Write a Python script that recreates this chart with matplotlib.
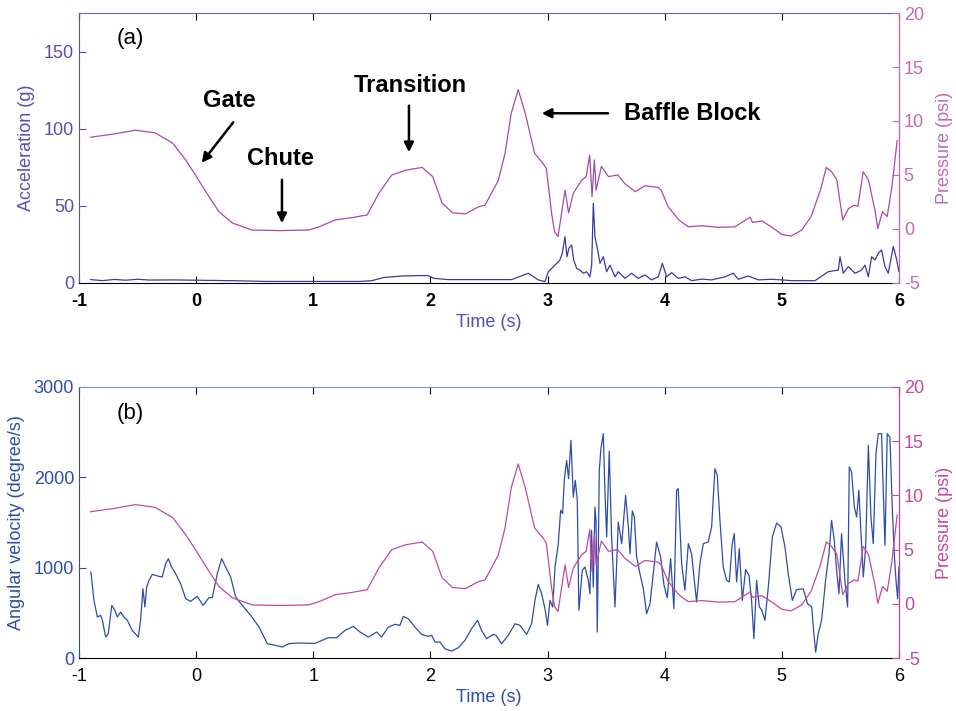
import matplotlib
matplotlib.use("Agg")
import matplotlib.pyplot as plt

plt.rcParams['font.family'] = ['Liberation Sans', 'DejaVu Sans']
plt.rcParams['axes.unicode_minus'] = False

# pressure (psi), same record in both panels
press_t = [-0.9, -0.7, -0.52, -0.35, -0.2, -0.09, 0.0, 0.08, 0.195, 0.31,
           0.48, 0.71, 0.96, 1.05, 1.19, 1.33, 1.46, 1.56, 1.67, 1.79,
           1.93, 2.02, 2.1, 2.19, 2.3, 2.41, 2.466, 2.58, 2.637, 2.69,
           2.75, 2.81, 2.89, 2.96, 2.99, 3.035, 3.06, 3.09, 3.12, 3.15,
           3.18, 3.22, 3.29, 3.33, 3.36, 3.38, 3.40, 3.415, 3.46, 3.52,
           3.60, 3.66, 3.75, 3.83, 3.945, 3.97, 4.03, 4.12, 4.2, 4.32,
           4.46, 4.6, 4.73, 4.75, 4.83, 4.91, 5.0, 5.08, 5.17, 5.25,
           5.33, 5.38, 5.425, 5.47, 5.52, 5.57, 5.62, 5.65, 5.695, 5.74,
           5.795, 5.82, 5.86, 5.90, 5.94, 5.985]
press_psi = [8.5, 8.8, 9.15, 8.9, 7.95, 6.4, 4.9, 3.5, 1.6, 0.55,
             -0.1, -0.15, -0.1, 0.2, 0.85, 1.05, 1.3, 3.3, 5.0, 5.45,
             5.7, 4.85, 2.4, 1.5, 1.4, 2.05, 2.2, 4.5, 7.0, 10.7,
             12.9, 10.7, 7.0, 6.1, 5.6, 1.45, -0.25, -0.7, 1.45, 3.6,
             1.5, 3.3, 4.5, 4.85, 6.85, 3.0, 6.4, 3.6, 5.8, 4.85,
             5.0, 4.2, 3.45, 4.0, 3.85, 3.6, 2.05, 0.85, 0.2, 0.3,
             0.15, 0.2, 1.1, 0.6, 0.75, 0.2, -0.5, -0.65, -0.1, 1.15,
             3.6, 5.7, 5.3, 4.55, 0.85, 1.9, 2.2, 2.1, 5.3, 4.55,
             1.75, 0.05, 1.6, 1.15, 3.9, 8.2]

# acceleration (g), panel (a)
acc_t = [-0.9, -0.8, -0.7, -0.6, -0.5, -0.4, -0.2, 0.0, 0.3, 0.6,
         1.0, 1.4, 1.5, 1.6, 1.75, 1.9, 1.98, 2.03, 2.15, 2.5,
         2.694, 2.836, 2.921, 2.978, 3.007, 3.035, 3.064, 3.092, 3.106, 3.126,
         3.149, 3.166, 3.183, 3.206, 3.223, 3.249, 3.277, 3.305, 3.334, 3.362,
         3.377, 3.391, 3.405, 3.428, 3.448, 3.476, 3.505, 3.533, 3.576, 3.604,
         3.661, 3.718, 3.775, 3.832, 3.889, 3.946, 3.98, 4.017, 4.06, 4.117,
         4.174, 4.23, 4.316, 4.401, 4.515, 4.586, 4.629, 4.714, 4.8, 4.913,
         4.999, 5.084, 5.283, 5.312, 5.397, 5.483, 5.497, 5.525, 5.568, 5.625,
         5.682, 5.71, 5.739, 5.767, 5.796, 5.824, 5.852, 5.881, 5.909, 5.952,
         5.981, 6.0]
acc_g = [2.2, 1.5, 2.3, 1.8, 2.4, 1.9, 2.0, 1.8, 1.5, 1.0,
         1.0, 1.0, 1.5, 3.5, 4.5, 4.8, 4.8, 3.0, 2.2, 2.2,
         2.2, 6.3, 2.0, 0.9, 7.3, 9.4, 11.6, 13.8, 15.0, 19.2,
         30.0, 17.0, 22.6, 24.6, 15.0, 9.4, 8.4, 6.3, 7.3, 4.0,
         11.6, 51.7, 30.0, 21.4, 12.7, 17.0, 7.3, 11.6, 4.0, 7.3,
         3.0, 6.3, 3.0, 5.2, 2.0, 4.0, 12.7, 4.0, 6.7, 3.0,
         4.0, 1.5, 2.5, 2.0, 4.0, 6.3, 2.4, 4.5, 2.0, 2.4,
         2.0, 1.5, 1.5, 3.0, 7.3, 8.4, 17.0, 6.3, 10.6, 6.3,
         8.4, 11.6, 4.0, 17.0, 15.0, 19.2, 21.4, 10.6, 6.3, 23.7,
         15.0, 7.3]

# angular velocity (degree/s), panel (b)
omega_t = [-0.898, -0.872, -0.843, -0.815, -0.80, -0.772, -0.75, -0.72, -0.693, -0.673,
           -0.644, -0.616, -0.587, -0.545, -0.493, -0.474, -0.454, -0.437, -0.422, -0.402,
           -0.374, -0.317, -0.289, -0.26, -0.237, -0.209, -0.175, -0.132, -0.089, -0.047,
           0.01, 0.059, 0.11, 0.138, 0.181, 0.218, 0.252, 0.295, 0.338, 0.394,
           0.466, 0.537, 0.608, 0.679, 0.736, 0.793, 0.872, 1.015, 1.128, 1.2,
           1.271, 1.342, 1.399, 1.47, 1.541, 1.584, 1.641, 1.698, 1.74, 1.769,
           1.812, 1.868, 1.925, 1.982, 2.011, 2.039, 2.082, 2.124, 2.181, 2.238,
           2.295, 2.352, 2.403, 2.437, 2.48, 2.537, 2.56, 2.608, 2.665, 2.722,
           2.765, 2.822, 2.864, 2.893, 2.921, 2.95, 2.978, 3.0, 3.021, 3.044,
           3.064, 3.092, 3.112, 3.129, 3.143, 3.163, 3.18, 3.2, 3.22, 3.237,
           3.254, 3.268, 3.297, 3.32, 3.348, 3.362, 3.376, 3.391, 3.405, 3.414,
           3.425, 3.442, 3.456, 3.476, 3.49, 3.505, 3.527, 3.547, 3.576, 3.604,
           3.633, 3.667, 3.69, 3.704, 3.724, 3.741, 3.761, 3.789, 3.818, 3.846,
           3.875, 3.909, 3.931, 3.966, 3.994, 4.022, 4.051, 4.079, 4.102, 4.116,
           4.145, 4.173, 4.202, 4.23, 4.259, 4.273, 4.301, 4.33, 4.372, 4.401,
           4.429, 4.449, 4.472, 4.5, 4.529, 4.552, 4.577, 4.594, 4.614, 4.637,
           4.663, 4.691, 4.72, 4.742, 4.762, 4.785, 4.808, 4.828, 4.856, 4.885,
           4.919, 4.956, 4.993, 5.027, 5.055, 5.09, 5.126, 5.183, 5.22, 5.255,
           5.274, 5.289, 5.311, 5.34, 5.374, 5.403, 5.425, 5.448, 5.468, 5.488,
           5.51, 5.539, 5.562, 5.576, 5.596, 5.619, 5.639, 5.658, 5.676, 5.696,
           5.716, 5.739, 5.761, 5.781, 5.804, 5.824, 5.852, 5.866, 5.881, 5.9,
           5.923, 5.943, 5.96, 5.975, 5.989, 6.0]
omega = [952, 638, 454, 472, 417, 232, 269, 583, 528, 454,
         509, 454, 417, 306, 232, 417, 767, 565, 786, 860,
         926, 904, 897, 1044, 1100, 1007, 934, 823, 657, 627,
         683, 583, 668, 668, 934, 1100, 1007, 897, 675, 583,
         472, 343, 159, 140, 122, 159, 166, 162, 225, 225,
         306, 350, 288, 232, 288, 232, 343, 373, 362, 461,
         435, 343, 262, 240, 251, 177, 177, 103, 77, 114,
         196, 325, 417, 306, 214, 262, 251, 159, 251, 380,
         362, 262, 380, 638, 816, 712, 546, 362, 638, 565,
         1007, 1266, 1635, 1598, 1967, 2188, 1986, 2410, 1782, 1967,
         1746, 528, 971, 1007, 860, 712, 1413, 786, 1672, 1524,
         288, 2078, 2317, 2483, 1856, 1340, 2290, 1340, 565, 1506,
         1266, 1801, 1451, 1155, 1628, 1562, 1118, 934, 767, 491,
         601, 1007, 1284, 1118, 808, 668, 1100, 546, 1856, 1875,
         1044, 749, 1266, 1155, 786, 620, 1044, 1266, 1284, 1451,
         2096, 2022, 1524, 1007, 860, 842, 1266, 1377, 842, 1210,
         638, 979, 916, 638, 214, 860, 565, 535, 417, 786,
         1340, 1494, 1451, 1229, 934, 638, 757, 767, 601, 565,
         269, 66, 269, 417, 860, 1155, 1524, 1303, 971, 712,
         1377, 860, 565, 2114, 2059, 1672, 1562, 1856, 1377, 897,
         1229, 2354, 1562, 1266, 2262, 2483, 2483, 1856, 1247, 2483,
         2446, 1672, 1155, 860, 657, 1007]

x_ticks = [-1, 0, 1, 2, 3, 4, 5, 6]

# colours
a_left = '#5b4db3'
a_right = '#c46ab4'
a_press = '#a84aa8'
a_acc = '#3b3aa5'
b_blue = '#2d4ea8'
b_mag = '#c04aa2'

fig = plt.figure(figsize=(9.56, 7.11), dpi=100)

# ---------------- panel (a) ----------------
ax1 = fig.add_axes([0.0826, 0.602, 0.8577, 0.3797])
ax1.plot(acc_t, acc_g, color=a_acc, lw=0.9)
ax1.set_xlim(-1, 6)
ax1.set_ylim(0, 175)
ax1.set_xticks(x_ticks)
ax1.set_yticks([0, 50, 100, 150])
ax1.set_xlabel('Time (s)', color='#5050b8', fontsize=13)
ax1.set_ylabel('Acceleration (g)', color=a_left, fontsize=13)
ax1.xaxis.set_label_coords(0.5, -0.115)
ax1.yaxis.set_label_coords(-0.054, 0.5)
ax1.tick_params(axis='both', direction='in', top=True, right=True, length=5, labelsize=13)
ax1.tick_params(axis='x', pad=7)
ax1.tick_params(axis='y', colors=a_left)
for lab in ax1.get_xticklabels():
    lab.set_fontweight('bold')
ax1.spines['left'].set_color(a_left)
ax1.spines['top'].set_color('#7060c0')
ax1.spines['bottom'].set_color('black')

ax1r = ax1.twinx()
ax1r.plot(press_t, press_psi, color=a_press, lw=0.9)
ax1r.set_ylim(-5, 20)
ax1r.set_yticks([-5, 0, 5, 10, 15, 20])
ax1r.set_ylabel('Pressure (psi)', color=a_right, fontsize=13)
ax1r.yaxis.set_label_coords(1.045, 0.5)
ax1r.tick_params(axis='y', direction='in', length=5, labelsize=13, colors=a_right)
ax1r.spines['right'].set_color(a_right)
ax1r.spines['left'].set_visible(False)
ax1r.spines['top'].set_visible(False)
ax1r.spines['bottom'].set_visible(False)

ax1.text(-0.565, 158.8, '(a)', fontsize=16, ha='center', va='center')
arrow = dict(arrowstyle='-|>', color='black', lw=1.8, mutation_scale=14)
ax1.annotate('', xy=(0.033, 76.5), xytext=(0.332, 105.6), arrowprops=arrow)
ax1.text(0.28, 118, 'Gate', fontsize=17, fontweight='bold', ha='center', va='center')
ax1.annotate('', xy=(0.733, 37), xytext=(0.733, 68.7), arrowprops=arrow)
ax1.text(0.716, 81, 'Chute', fontsize=17, fontweight='bold', ha='center', va='center')
ax1.annotate('', xy=(1.817, 83), xytext=(1.817, 116.7), arrowprops=arrow)
ax1.text(1.826, 127.7, 'Transition', fontsize=17, fontweight='bold', ha='center', va='center')
ax1.annotate('', xy=(2.927, 110), xytext=(3.54, 110), arrowprops=arrow)
ax1.text(3.653, 110, 'Baffle Block', fontsize=17, fontweight='bold', ha='left', va='center')

# ---------------- panel (b) ----------------
ax2 = fig.add_axes([0.0826, 0.0745, 0.8577, 0.3812])
ax2.plot(omega_t, omega, color=b_blue, lw=0.9)
ax2.set_xlim(-1, 6)
ax2.set_ylim(0, 3000)
ax2.set_xticks(x_ticks)
ax2.set_yticks([0, 1000, 2000, 3000])
ax2.set_xlabel('Time (s)', color=b_blue, fontsize=13)
ax2.set_ylabel('Angular velocity (degree/s)', color=b_blue, fontsize=13)
ax2.xaxis.set_label_coords(0.5, -0.114)
ax2.yaxis.set_label_coords(-0.066, 0.5)
ax2.tick_params(axis='both', direction='in', top=True, right=True, length=5, labelsize=13)
ax2.tick_params(axis='x', pad=7)
ax2.tick_params(axis='y', colors=b_blue)
ax2.spines['left'].set_color(b_blue)
ax2.spines['top'].set_color('#7a90d0')
ax2.spines['bottom'].set_color('black')

ax2r = ax2.twinx()
ax2r.plot(press_t, press_psi, color=b_mag, lw=0.9)
ax2r.set_ylim(-5, 20)
ax2r.set_yticks([-5, 0, 5, 10, 15, 20])
ax2r.set_ylabel('Pressure (psi)', color=b_mag, fontsize=13)
ax2r.yaxis.set_label_coords(1.045, 0.5)
ax2r.tick_params(axis='y', direction='in', length=5, labelsize=13, colors=b_mag)
ax2r.spines['right'].set_color(b_mag)
ax2r.spines['left'].set_visible(False)
ax2r.spines['top'].set_visible(False)
ax2r.spines['bottom'].set_visible(False)

ax2.text(-0.565, 2712, '(b)', fontsize=16, ha='center', va='center')

fig.savefig('out.png', dpi=100)
